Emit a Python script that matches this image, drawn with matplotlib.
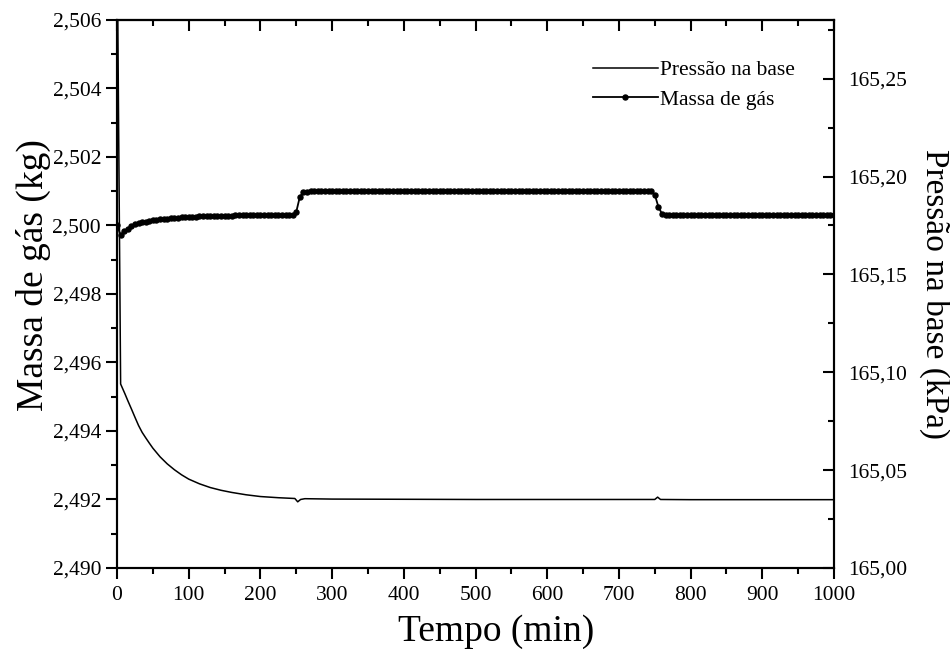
import numpy as np
import matplotlib
matplotlib.use('Agg')
import matplotlib.pyplot as plt
from matplotlib.ticker import MultipleLocator, FuncFormatter

plt.rcParams['font.family'] = ['Liberation Serif', 'DejaVu Serif']

# mass of gas (kg), one point every 5 min from 0 to 1000
tempo_massa = np.arange(0, 1005, 5)
massa = [
    2.50000, 2.49972, 2.49983, 2.49990, 2.49998, 2.50003, 2.50006, 2.50009, 2.50011, 2.50013,  # 0-45
    2.50015, 2.50016, 2.50018, 2.50019, 2.50020, 2.50021, 2.50022, 2.50023, 2.50024, 2.50024,  # 50-95
    2.50025, 2.50026, 2.50026, 2.50027, 2.50027, 2.50028, 2.50028, 2.50028, 2.50029, 2.50029,  # 100-145
    2.50029, 2.50029, 2.50029, 2.50030, 2.50030, 2.50030, 2.50030, 2.50030, 2.50030, 2.50030,  # 150-195
    2.50030, 2.50030, 2.50030, 2.50030, 2.50030, 2.50030, 2.50030, 2.50030, 2.50030, 2.50030,  # 200-245
    2.50040, 2.50084, 2.50097, 2.50099, 2.50100, 2.50100, 2.50100, 2.50100, 2.50100, 2.50100,  # 250-295
    2.50100, 2.50100, 2.50100, 2.50100, 2.50100, 2.50100, 2.50100, 2.50100, 2.50100, 2.50100,  # 300-345
    2.50100, 2.50100, 2.50100, 2.50100, 2.50100, 2.50100, 2.50100, 2.50100, 2.50100, 2.50100,  # 350-395
    2.50100, 2.50100, 2.50100, 2.50100, 2.50100, 2.50100, 2.50100, 2.50100, 2.50100, 2.50100,  # 400-445
    2.50100, 2.50100, 2.50100, 2.50100, 2.50100, 2.50100, 2.50100, 2.50100, 2.50100, 2.50100,  # 450-495
    2.50100, 2.50100, 2.50100, 2.50100, 2.50100, 2.50100, 2.50100, 2.50100, 2.50100, 2.50100,  # 500-545
    2.50100, 2.50100, 2.50100, 2.50100, 2.50100, 2.50100, 2.50100, 2.50100, 2.50100, 2.50100,  # 550-595
    2.50100, 2.50100, 2.50100, 2.50100, 2.50100, 2.50100, 2.50100, 2.50100, 2.50100, 2.50100,  # 600-645
    2.50100, 2.50100, 2.50100, 2.50100, 2.50100, 2.50100, 2.50100, 2.50100, 2.50100, 2.50100,  # 650-695
    2.50100, 2.50100, 2.50100, 2.50100, 2.50100, 2.50100, 2.50100, 2.50100, 2.50100, 2.50100,  # 700-745
    2.50090, 2.50055, 2.50034, 2.50031, 2.50030, 2.50030, 2.50030, 2.50030, 2.50030, 2.50030,  # 750-795
    2.50030, 2.50030, 2.50030, 2.50030, 2.50030, 2.50030, 2.50030, 2.50030, 2.50030, 2.50030,  # 800-845
    2.50030, 2.50030, 2.50030, 2.50030, 2.50030, 2.50030, 2.50030, 2.50030, 2.50030, 2.50030,  # 850-895
    2.50030, 2.50030, 2.50030, 2.50030, 2.50030, 2.50030, 2.50030, 2.50030, 2.50030, 2.50030,  # 900-945
    2.50030, 2.50030, 2.50030, 2.50030, 2.50030, 2.50030, 2.50030, 2.50030, 2.50030, 2.50030,  # 950-995
    2.50030,                                                                                    # 1000
]

# pressure at the base (kPa)
tempo_pressao = [0, 5, 8, 11, 15, 20, 25, 30, 35, 40, 45, 50, 60, 70, 80, 90, 100, 115,
                 130, 145, 160, 180, 200, 225, 248, 252, 256, 262, 300, 400, 500, 600, 700,
                 750, 754, 758, 800, 1000]
pressao = [165.330, 165.0940, 165.0915, 165.0890, 165.0855, 165.0813, 165.0770, 165.0728,
           165.0693, 165.0665, 165.0638, 165.0612, 165.0568, 165.0532, 165.0502, 165.0476,
           165.0454, 165.0430, 165.0411, 165.0397, 165.0386, 165.0374, 165.0365, 165.0359,
           165.0355, 165.0338, 165.0350, 165.0354, 165.0352, 165.0351, 165.0350, 165.0350,
           165.0350, 165.0350, 165.0362, 165.0350, 165.0349, 165.0349]

fig = plt.figure(figsize=(9.5, 6.57), dpi=100)
ax = fig.add_axes([0.1232, 0.1355, 0.7547, 0.8341])
ax2 = ax.twinx()

l1, = ax2.plot(tempo_pressao, pressao, color='black', lw=1.1, label='Pressão na base')
l2, = ax.plot(tempo_massa, massa, color='black', lw=1.3, marker='o', ms=3.6,
              label='Massa de gás')

ax.set_xlim(0, 1000)
ax.set_ylim(2.490, 2.506)
ax2.set_ylim(165.00, 165.28)

ax.xaxis.set_major_locator(MultipleLocator(100))
ax.xaxis.set_minor_locator(MultipleLocator(50))
ax.yaxis.set_major_locator(MultipleLocator(0.002))
ax.yaxis.set_minor_locator(MultipleLocator(0.001))
ax2.yaxis.set_major_locator(MultipleLocator(0.05))
ax2.yaxis.set_minor_locator(MultipleLocator(0.025))

ax.yaxis.set_major_formatter(FuncFormatter(lambda v, p: '{:.3f}'.format(v).replace('.', ',')))
ax2.yaxis.set_major_formatter(FuncFormatter(lambda v, p: '{:.2f}'.format(v).replace('.', ',')))
ax.xaxis.set_major_formatter(FuncFormatter(lambda v, p: '{:d}'.format(int(round(v)))))

fs = 15.5
ax.tick_params(axis='both', which='major', direction='out', length=8, width=1.5, labelsize=fs)
ax.tick_params(axis='x', which='major', pad=5)
ax.tick_params(axis='both', which='minor', direction='out', length=4.5, width=1.5)
ax2.tick_params(axis='y', which='major', direction='in', length=8, width=1.5, labelsize=fs, pad=10)
ax2.tick_params(axis='y', which='minor', direction='in', length=4.5, width=1.5)

# top ticks pointing inward
top = ax.secondary_xaxis('top')
top.xaxis.set_major_locator(MultipleLocator(100))
top.xaxis.set_minor_locator(MultipleLocator(50))
top.tick_params(which='major', direction='in', length=8, width=1.5, labeltop=False)
top.tick_params(which='minor', direction='in', length=4.5, width=1.5)
top.spines['top'].set_linewidth(1.5)

for a in (ax, ax2):
    for s in a.spines.values():
        s.set_linewidth(1.5)

ax.set_xlabel('Tempo (min)', fontsize=27, labelpad=8)
ax.xaxis.set_label_coords(0.529, -0.085)
ax.set_ylabel('Massa de gás (kg)', fontsize=27)
ax.yaxis.set_label_coords(-0.092, 0.535)
ax2.set_ylabel('Pressão na base (kPa)', fontsize=24, rotation=270, labelpad=31)

ax2.legend(handles=[l1, l2], loc='upper right', bbox_to_anchor=(0.972, 0.962), frameon=False,
           fontsize=fs, handlelength=3.0, handletextpad=0.1, labelspacing=0.45)

fig.savefig('out.png', dpi=100)
